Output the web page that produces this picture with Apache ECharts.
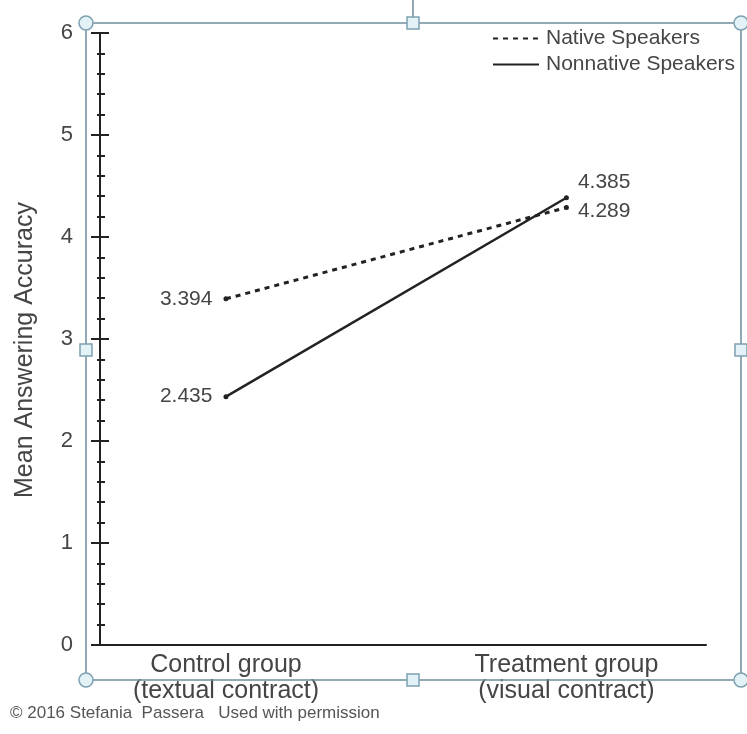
<!DOCTYPE html>
<html>
<head>
<meta charset="utf-8">
<script src="https://cdn.jsdelivr.net/npm/echarts@6/dist/echarts.min.js"></script>
<style>
html,body{margin:0;padding:0;background:#fff;}
#c{width:747px;height:734px;}
</style>
</head>
<body>
<div id="c"></div>
<script>
var categories = ['Control group\n(textual contract)', 'Treatment group\n(visual contract)'];
var nativeValues = [3.394, 4.289];
var nonnativeValues = [2.435, 4.385];
var seriesNames = ['Native Speakers', 'Nonnative Speakers'];
var yTicks = [0, 1, 2, 3, 4, 5, 6];

var chart = echarts.init(document.getElementById('c'), null, {renderer: 'canvas'});
var FONT = 'Liberation Sans, Arial, sans-serif';
var LINE = '#222';
var TXT = '#454545';

function pts(vals) { return vals.map(function (v, i) { return [i, v]; }); }

function labelled(vals, rightOffset) {
  return vals.map(function (v, i) {
    return {
      value: [i, v],
      label: i === 0
        ? {position: 'left', distance: 11}
        : {position: 'right', distance: 9, offset: [0, rightOffset]}
    };
  });
}

var frameStroke = '#6f8e9e';
var handleFill = '#e2f2f6';
var handleStroke = '#7da0b0';
var fx = 86, fy = 23, fw = 655, fh = 657;
var labelCfg = {show: true, fontSize: 21, color: TXT, opacity: 1, fontFamily: FONT,
  formatter: function (p) { return p.value[1].toFixed(3); }};

var option = {
  backgroundColor: '#fff',
  animation: false,
  textStyle: {fontFamily: FONT},
  grid: {left: 100, right: 41, top: 33, bottom: 89, containLabel: false},
  legend: {
    orient: 'vertical',
    left: 487,
    top: 23,
    itemWidth: 46,
    itemHeight: 14,
    itemGap: 5,
    data: seriesNames,
    itemStyle: {opacity: 0},
    textStyle: {fontSize: 21, color: TXT, fontFamily: FONT, padding: [0, 0, 0, 2]}
  },
  xAxis: {
    type: 'value',
    min: -0.37,
    max: 1.41,
    splitLine: {show: false},
    axisTick: {show: false},
    axisLine: {show: true, onZero: false, lineStyle: {color: LINE, width: 2}},
    axisLabel: {
      customValues: [0, 1],
      formatter: function (v) { return categories[Math.round(v)] || ''; },
      fontSize: 25,
      lineHeight: 26,
      color: TXT,
      margin: 7,
      fontFamily: FONT
    }
  },
  yAxis: [{
    type: 'value',
    min: 0,
    max: 6,
    interval: 1,
    name: 'Mean Answering Accuracy',
    nameLocation: 'middle',
    nameGap: 62,
    nameTextStyle: {fontSize: 25, color: TXT, fontFamily: FONT, padding: [0, 22, 0, 0]},
    splitLine: {show: false},
    axisLine: {show: true, onZero: false, lineStyle: {color: LINE, width: 2}},
    axisTick: {show: true, length: 9, lineStyle: {color: LINE, width: 2}},
    minorTick: {show: true, splitNumber: 5, length: 3, lineStyle: {color: LINE, width: 2}},
    axisLabel: {fontSize: 22, color: TXT, margin: 27, fontFamily: FONT,
      customValues: yTicks}
  }, {
    type: 'value',
    position: 'left',
    min: 0,
    max: 6,
    interval: 1,
    splitLine: {show: false},
    axisLine: {show: false, onZero: false},
    axisTick: {show: true, inside: true, length: 9, lineStyle: {color: LINE, width: 2}},
    minorTick: {show: true, splitNumber: 5, length: 5, lineStyle: {color: LINE, width: 2}},
    axisLabel: {show: false}
  }],
  series: [{
    name: seriesNames[0],
    type: 'line',
    symbol: 'none',
    data: pts(nativeValues),
    lineStyle: {color: LINE, width: 3, type: [5, 5]},
    itemStyle: {color: LINE},
    z: 3
  }, {
    name: seriesNames[1],
    type: 'line',
    symbol: 'none',
    data: pts(nonnativeValues),
    lineStyle: {color: LINE, width: 2.5, type: 'solid'},
    itemStyle: {color: LINE},
    z: 3
  }, {
    type: 'scatter',
    symbolSize: 5,
    data: labelled(nativeValues, 4),
    itemStyle: {color: LINE, opacity: 1},
    label: labelCfg,
    silent: true,
    z: 4
  }, {
    type: 'scatter',
    symbolSize: 5,
    data: labelled(nonnativeValues, -16),
    itemStyle: {color: LINE, opacity: 1},
    label: labelCfg,
    silent: true,
    z: 4
  }],
  graphic: [
    {type: 'line', shape: {x1: 413, y1: 0, x2: 413, y2: fy}, style: {stroke: frameStroke, lineWidth: 1.5}, z: 10},
    {type: 'rect', shape: {x: fx, y: fy, width: fw, height: fh}, style: {fill: null, stroke: frameStroke, lineWidth: 1.5}, z: 10},
    {type: 'circle', shape: {cx: fx, cy: fy, r: 7}, style: {fill: handleFill, stroke: handleStroke, lineWidth: 1.5}, z: 11},
    {type: 'circle', shape: {cx: fx + fw, cy: fy, r: 7}, style: {fill: handleFill, stroke: handleStroke, lineWidth: 1.5}, z: 11},
    {type: 'circle', shape: {cx: fx, cy: fy + fh, r: 7}, style: {fill: handleFill, stroke: handleStroke, lineWidth: 1.5}, z: 11},
    {type: 'circle', shape: {cx: fx + fw, cy: fy + fh, r: 7}, style: {fill: handleFill, stroke: handleStroke, lineWidth: 1.5}, z: 11},
    {type: 'rect', shape: {x: 413 - 6, y: fy - 6, width: 12, height: 12}, style: {fill: handleFill, stroke: handleStroke, lineWidth: 1.5}, z: 11},
    {type: 'rect', shape: {x: 413 - 6, y: fy + fh - 6, width: 12, height: 12}, style: {fill: handleFill, stroke: handleStroke, lineWidth: 1.5}, z: 11},
    {type: 'rect', shape: {x: fx - 6, y: 350 - 6, width: 12, height: 12}, style: {fill: handleFill, stroke: handleStroke, lineWidth: 1.5}, z: 11},
    {type: 'rect', shape: {x: fx + fw - 6, y: 350 - 6, width: 12, height: 12}, style: {fill: handleFill, stroke: handleStroke, lineWidth: 1.5}, z: 11},
    {type: 'text', left: 10, top: 705, style: {text: '© 2016 Stefania  Passera   Used with permission', font: '17px ' + FONT, fill: '#555'}, z: 10}
  ]
};
chart.setOption(option);
</script>
</body>
</html>
